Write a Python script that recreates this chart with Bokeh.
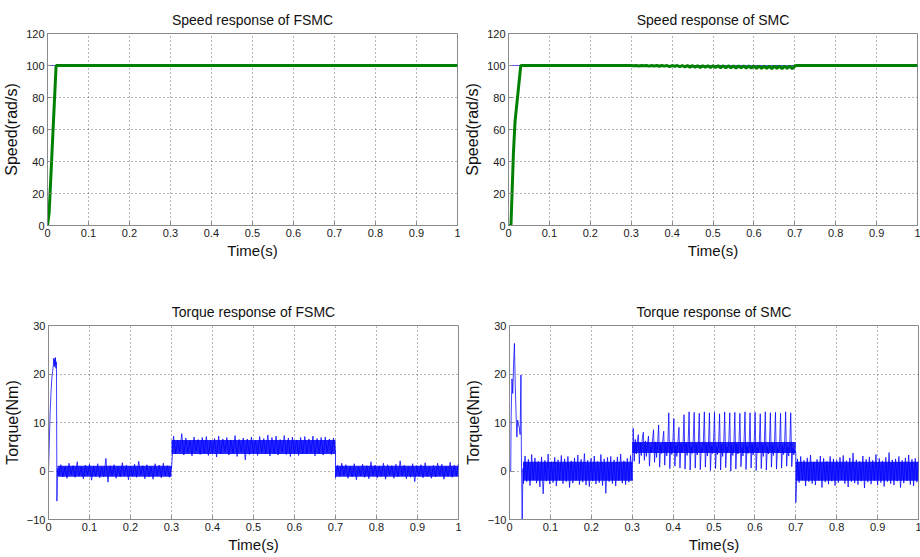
import numpy as np
from bokeh.plotting import figure
from bokeh.layouts import column, row
from bokeh.models import Range1d, FixedTicker
from bokeh.embed import file_html
from bokeh.resources import INLINE

# ---------------- data ----------------
x_ticks = [0, 0.1, 0.2, 0.3, 0.4, 0.5, 0.6, 0.7, 0.8, 0.9, 1]
x_tick_labels = ["0", "0.1", "0.2", "0.3", "0.4", "0.5", "0.6", "0.7", "0.8", "0.9", "1"]
speed_ticks = [0, 20, 40, 60, 80, 100, 120]
torque_ticks = [-10, 0, 10, 20, 30]

# reference speed (blue)
ref_t = [0, 1]
ref_speed = [100, 100]

# FSMC speed (green)
fsmc_speed_t = [0, 0.004, 0.021, 1.0]
fsmc_speed = [0, 8, 100, 100]

# SMC speed (green), ripple between 0.3 s and 0.7 s
smc_speed_t0 = [0, 0.006, 0.012, 0.016, 0.030, 0.300]
smc_speed_v0 = [0, 0, 45, 65, 100, 100]
smc_ripple = [100, 99.8, 100, 99.7, 100, 99.8, 100, 99.6, 100, 99.7, 100, 99.5, 100, 99.6,
              100, 99.3, 100, 99.4, 100, 99.2, 100, 99.1, 99.9, 99.0, 99.9, 98.9, 99.9, 98.8,
              99.9, 98.9, 99.8, 98.7, 99.8, 98.8, 99.8, 98.6, 99.8, 98.5, 99.8, 98.6, 99.7,
              98.4, 99.7, 98.5, 99.7, 98.3, 99.7, 98.4, 99.7, 98.2, 99.6, 98.3, 99.6, 98.2,
              99.6, 98.1, 99.6, 98.3, 99.6, 98.1, 99.6, 98.2, 99.7, 98.0, 99.7]
smc_speed_t1 = [0.705, 1.0]
smc_speed_v1 = [100, 100]

# FSMC torque
fsmc_tq_early_t = [0, 0.002, 0.004, 0.006, 0.008, 0.010, 0.012, 0.013, 0.014, 0.015, 0.016,
                   0.017, 0.018, 0.019, 0.0195, 0.0205, 0.022, 0.024]
fsmc_tq_early = [0, 6, 12, 16, 19, 20.5, 22, 23.3, 21.5, 23, 21.8, 23.4, 21.2, 22.5, 21,
                 -6.2, 0.5, -0.8]
fsmc_tq_seg1 = [-0.9, 1.3, -1.2, 0.8, -1.5, 1.6, -0.7, 1.1, -1.3, 1.9, -1.0, 0.9, -1.6, 1.2,
                -0.8, 1.4, -1.9, 1.0, -1.1, 1.5, -1.4, 0.7, -1.2, 2.6, -2.3, 1.1, -1.0, 1.3,
                -1.5, 0.9, -1.2, 1.7, -0.9, 1.2, -1.8, 1.0, -1.1, 1.4, -1.3, 2.0, -0.8, 1.1,
                -1.6, 1.3, -1.2, 0.9, -1.7, 1.5, -1.0, 1.2, -1.4, 1.6, -0.9, 1.1, -1.3, 0.8]
fsmc_tq_seg2 = [0.5, 7.2, 3.6, 6.4, 4.0, 7.7, 3.3, 6.8, 3.9, 6.2, 3.1, 7.0, 4.1, 6.5, 3.4,
                6.9, 3.7, 7.1, 3.2, 6.3, 3.8, 6.7, 2.9, 7.2, 3.5, 6.6, 4.0, 6.9, 3.3, 6.4,
                3.6, 7.3, 3.0, 6.5, 3.9, 6.8, 2.3, 6.6, 3.4, 7.0, 3.7, 6.3, 3.2, 7.1, 3.8,
                6.7, 3.5, 7.4, 3.1, 6.9, 3.6, 7.2, 3.3, 6.5, 3.9, 7.3, 3.4, 6.8, 3.0, 7.0,
                3.7, 6.4, 3.2, 6.9, 3.6, 7.1, 3.5, 6.6, 3.8, 7.2, 3.1, 6.7, 3.6, 6.9, 3.3,
                7.0, 3.9, 6.6, 3.4, 6.8, 4.0]
fsmc_tq_seg3 = [-1.4, 1.2, -1.1, 1.6, -0.9, 1.3, -1.5, 1.0, -1.2, 1.5, -1.8, 0.9, -1.0, 1.4,
                -1.3, 1.1, -1.6, 1.9, -0.9, 1.2, -1.4, 1.0, -1.1, 1.6, -1.7, 1.3, -0.8, 1.1,
                -1.5, 1.4, -1.2, 2.1, -1.0, 1.2, -1.6, 0.9, -1.3, 1.5, -2.2, 1.1, -1.0, 1.3,
                -1.4, 1.7, -1.1, 0.9, -1.5, 1.2, -1.2, 1.6, -0.9, 1.4, -1.7, 1.0, -1.1, 1.8,
                -1.3, 1.2, -1.0, 1.5]
fsmc_core_t = [0.022, 0.300, 0.300, 0.700, 0.700, 1.000]
fsmc_core_lo = [-1.2, -1.2, 3.5, 3.5, -1.2, -1.2]
fsmc_core_hi = [1.1, 1.1, 6.4, 6.4, 1.1, 1.1]

# SMC torque
smc_tq_early_t = [0, 0.003, 0.004, 0.006, 0.008, 0.010, 0.012, 0.014, 0.016, 0.018, 0.020,
                  0.022, 0.024, 0.026, 0.028, 0.029, 0.031, 0.033]
smc_tq_early = [0, 0, 11, 19, 16, 22, 26.3, 18, 12, 7, 10.5, 9.5, 9.0, 7.5, 19.8, 4, -10, 0.5]
smc_tq_seg1 = [-2.6, 3.1, -2.2, 2.4, -3.0, 3.4, -1.8, 2.7, -2.5, 2.0, -3.3, 2.9, -4.7, 2.2,
               -2.1, 3.5, -2.7, 1.9, -2.4, 2.8, -3.1, 2.3, -1.9, 3.2, -2.6, 2.5, -2.2, 3.0,
               -3.4, 2.1, -2.5, 2.7, -2.0, 3.3, -2.8, 2.4, -2.3, 3.6, -2.9, 2.2, -3.2, 2.6,
               -2.1, 3.1, -2.7, 2.0, -2.4, 3.4, -3.0, 2.5, -4.6, 2.8, -2.2, 3.0, -2.6, 2.3,
               -3.1, 2.9, -2.0, 3.5, -2.5, 2.1, -2.8, 2.6, -2.3, 3.2, -2.0]
smc_tq_seg2 = [8.8, 2.0, 6.5, 3.5, 6.0, 7.5, 1.5, 5.8, 3.2, 6.8, 8.0, 2.2, 6.2, 3.0, 5.5,
               7.2, 1.0, 5.0, 3.8, 6.4, 8.5, 1.8, 6.0, 2.8, 5.6, 9.5, 0.8, 5.4, 3.6, 6.2,
               8.2, 1.2, 5.9, 3.1, 5.2, 12.0, 0.5, 6.0, 3.4, 5.8, 10.8, 1.0, 5.2, 3.0, 6.1,
               9.0, 0.6, 5.6, 3.7, 5.0, 11.6, 0.4, 5.8, 3.2, 5.4, 12.2, 0.2, 5.0, 3.6, 6.0,
               12.1, 0.6, 5.5, 3.3, 5.2, 11.9, 0.3, 4.8, 3.8, 5.9, 12.2, 0.8, 5.6, 3.1, 5.0,
               12.0, 0.1, 5.2, 3.6, 5.7, 12.1, 0.5, 4.9, 3.4, 5.5, 11.8, 0.2, 5.4, 3.0, 5.1,
               12.2, 0.7, 5.0, 3.7, 5.8, 12.0, 0.0, 5.3, 3.2, 4.9, 12.1, 0.4, 5.6, 3.5, 5.3,
               11.9, 0.9, 4.8, 3.1, 5.6, 12.2, 0.3, 5.1, 3.6, 5.0, 12.0, 0.6, 5.5, 3.3, 5.4,
               12.1, 0.1, 4.9, 3.8, 5.2, 11.8, 0.5, 5.3, 3.0, 5.7, 12.2, 0.2, 5.0, 3.5, 4.8,
               12.0, 0.8, 5.4, 3.2, 5.5, 12.1, 0.4, 4.8, 3.7, 5.1, 11.9, 0.6, 5.2, 3.4, 5.6,
               12.2, 1.0, 5.0, 3.1, 4.9, 12.0, 0.9, 4.7, 3.3, 4.2, 3.8]
smc_tq_seg3 = [-6.5, 2.5, -2.4, 3.0, -1.9, 2.2, -3.1, 2.7, -2.2, 3.3, -2.6, 1.9, -2.9, 2.4,
               -2.0, 3.1, -3.4, 2.6, -2.3, 2.0, -2.7, 3.0, -2.1, 2.5, -3.0, 2.2, -2.4, 2.8,
               -1.8, 3.2, -2.6, 2.1, -3.3, 2.7, -2.2, 3.7, -2.5, 2.3, -2.8, 2.0, -2.1, 3.1,
               -3.5, 2.4, -2.3, 2.9, -2.7, 2.2, -2.0, 3.4, -2.9, 2.6, -2.4, 2.1, -3.2, 2.8,
               -2.2, 3.8, -2.6, 2.3, -2.9, 2.5, -2.1, 3.0, -3.4, 2.2, -2.5, 2.7, -2.0, 3.3,
               -2.8, 2.4, -3.1, 2.6, -2.3, 2.0]
smc_core_t = [0.033, 0.300, 0.300, 0.700, 0.700, 1.000]
smc_core_lo = [-2.0, -2.0, 3.7, 3.7, -2.0, -2.0]
smc_core_hi = [1.9, 1.9, 6.0, 6.0, 1.9, 1.9]


def sampled(t0, t1, vals):
    """Place hand-read samples evenly between t0 and t1."""
    return list(np.linspace(t0, t1, len(vals))), list(vals)


def series(early_t, early_v, segs):
    t = list(early_t)
    v = list(early_v)
    for (a, b, vals) in segs:
        st, sv = sampled(a, b, vals)
        t += st
        v += sv
    return t, v


FONT = "Liberation Sans"
BLUE = "#0000ff"
GREEN = "#008000"
FRAME = "#8a8a8a"


def make(title, ylabel, ylim, yticks, bl, br, bt, bb, fw, fh):
    p = figure(frame_width=fw, frame_height=fh, x_range=Range1d(0, 1),
               y_range=Range1d(*ylim), output_backend="svg", toolbar_location=None,
               min_border_left=bl, min_border_right=br, min_border_top=bt,
               min_border_bottom=bb, title=title)
    p.title.align = "center"
    p.title.text_font = FONT
    p.title.text_font_size = "14px"
    p.title.text_font_style = "normal"
    p.title.text_color = "#111111"
    p.title.standoff = 12
    p.outline_line_color = FRAME
    p.outline_line_width = 1
    p.outline_line_alpha = 1
    p.xaxis.ticker = FixedTicker(ticks=x_ticks)
    p.xaxis.major_label_overrides = dict(zip(x_ticks, x_tick_labels))
    p.yaxis.ticker = FixedTicker(ticks=yticks)
    for ax in (p.xaxis[0], p.yaxis[0]):
        ax.axis_line_color = FRAME
        ax.major_tick_line_color = FRAME
        ax.major_tick_in = 4
        ax.major_tick_out = 0
        ax.minor_tick_line_color = None
        ax.major_label_text_font = FONT
        ax.major_label_text_font_size = "11px"
        ax.major_label_text_color = "#1a1a1a"
        ax.major_label_standoff = 3
        ax.axis_label_text_font = FONT
        ax.axis_label_text_font_style = "normal"
        ax.axis_label_text_color = "#111111"
    p.xaxis.axis_label = "Time(s)"
    p.xaxis.axis_label_text_font_size = "15px"
    p.xaxis.axis_label_standoff = 2
    p.yaxis.axis_label = ylabel
    p.yaxis.axis_label_text_font_size = "16px"
    p.yaxis.axis_label_standoff = 3
    for g in (p.xgrid[0], p.ygrid[0]):
        g.grid_line_color = "#3a3a3a"
        g.grid_line_dash = "1 3"
        g.grid_line_alpha = 0.75
        g.grid_line_width = 1
    return p


FW_L = 410
FW_R = 409
# top row
p1 = make("Speed response of FSMC", "Speed(rad/s)", (0, 120), speed_ticks, 47, 3, 33, 70, FW_L, 192)
p1.line(ref_t, ref_speed, color=BLUE, line_width=1.2, alpha=0.6)
p1.line(fsmc_speed_t, fsmc_speed, color=GREEN, line_width=3)

p2 = make("Speed response of SMC", "Speed(rad/s)", (0, 120), speed_ticks, 48, 3, 33, 70, FW_R, 192)
p2.line(ref_t, ref_speed, color=BLUE, line_width=1.2, alpha=0.6)
st, sv = series(smc_speed_t0, smc_speed_v0, [(0.300, 0.700, smc_ripple)])
st += smc_speed_t1
sv += smc_speed_v1
p2.line(st, sv, color=GREEN, line_width=3)

# bottom row
p3 = make("Torque response of FSMC", "Torque(Nm)", (-10, 30), torque_ticks, 47, 3, 30, 38, FW_L, 194)
p3.varea(x=fsmc_core_t, y1=fsmc_core_lo, y2=fsmc_core_hi, fill_color=BLUE, fill_alpha=0.85)
tt, tv = series(fsmc_tq_early_t, fsmc_tq_early,
                [(0.025, 0.300, fsmc_tq_seg1), (0.300, 0.700, fsmc_tq_seg2),
                 (0.700, 1.000, fsmc_tq_seg3)])
p3.line(tt, tv, color=BLUE, line_width=1, alpha=0.75)

p4 = make("Torque response of SMC", "Torque(Nm)", (-10, 30), torque_ticks, 48, 3, 30, 38, FW_R, 194)
p4.varea(x=smc_core_t, y1=smc_core_lo, y2=smc_core_hi, fill_color=BLUE, fill_alpha=0.85)
tt, tv = series(smc_tq_early_t, smc_tq_early,
                [(0.034, 0.300, smc_tq_seg1), (0.3025, 0.700, smc_tq_seg2),
                 (0.700, 1.000, smc_tq_seg3)])
p4.line(tt, tv, color=BLUE, line_width=1, alpha=0.75)

layout = column(row(p1, p2), row(p3, p4))

with open("out.html", "w") as f:
    f.write(file_html(layout, INLINE))
